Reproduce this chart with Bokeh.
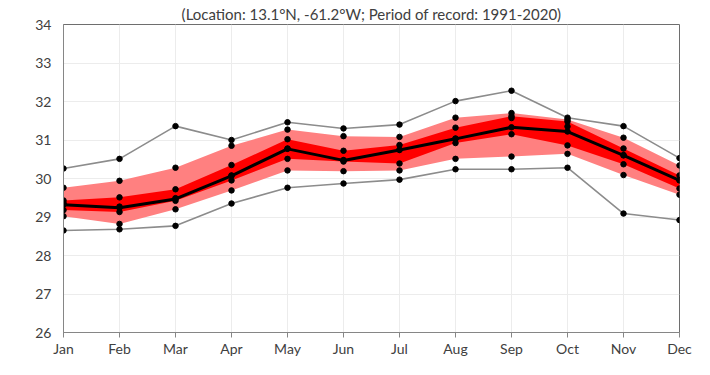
from bokeh.plotting import figure
from bokeh.embed import file_html
from bokeh.resources import INLINE
from bokeh.models import ColumnDataSource, FixedTicker, Range1d

months = ["Jan", "Feb", "Mar", "Apr", "May", "Jun", "Jul", "Aug", "Sep", "Oct", "Nov", "Dec"]
t_max = [30.26, 30.51, 31.36, 31.00, 31.46, 31.30, 31.40, 32.01, 32.28, 31.58, 31.36, 30.53]
p90 = [29.76, 29.94, 30.28, 30.85, 31.27, 31.10, 31.08, 31.58, 31.70, 31.53, 31.06, 30.34]
p75 = [29.43, 29.51, 29.72, 30.35, 31.02, 30.72, 30.87, 31.32, 31.62, 31.48, 30.78, 30.08]
median = [29.36, 29.27, 29.49, 30.08, 30.78, 30.48, 30.75, 31.04, 31.57, 31.35, 30.61, 29.96]
mean = [29.32, 29.24, 29.47, 30.07, 30.77, 30.47, 30.74, 31.03, 31.33, 31.22, 30.60, 29.95]
p25 = [29.18, 29.13, 29.42, 29.95, 30.51, 30.44, 30.39, 30.92, 31.15, 30.86, 30.37, 29.74]
p10 = [29.02, 28.82, 29.20, 29.69, 30.21, 30.19, 30.21, 30.51, 30.57, 30.64, 30.09, 29.58]
t_min = [28.65, 28.68, 28.77, 29.35, 29.76, 29.87, 29.97, 30.24, 30.24, 30.28, 29.09, 28.92]
y_ticks = [26, 27, 28, 29, 30, 31, 32, 33, 34]
subtitle = "(Location: 13.1°N, -61.2°W; Period of record: 1991-2020)"

x = [i + 1 for i in range(len(months))]
src = ColumnDataSource(dict(x=x, t_max=t_max, p90=p90, p75=p75, median=median,
                            mean=mean, p25=p25, p10=p10, t_min=t_min))

FONT = "Lato"
TXT = "#404040"

p = figure(width=694, height=359, output_backend="svg", toolbar_location=None,
           x_range=Range1d(1, 12), y_range=Range1d(26, 34),
           min_border_left=63, min_border_right=15, min_border_bottom=0, min_border_top=0)

p.title.text = subtitle
p.title.align = "center"
p.title.text_font = FONT
p.title.text_font_size = "15px"
p.title.text_font_style = "normal"
p.title.text_color = TXT
p.title.offset = 0
p.title.standoff = 4

p.varea(x="x", y1="p10", y2="p90", source=src, fill_color="#ff8080", fill_alpha=1)
p.varea(x="x", y1="p25", y2="p75", source=src, fill_color="#ff0000", fill_alpha=1)
p.line(x="x", y="t_max", source=src, line_color="#8c8c8c", line_width=1.6)
p.line(x="x", y="t_min", source=src, line_color="#8c8c8c", line_width=1.6)
p.line(x="x", y="mean", source=src, line_color="black", line_width=3)
for col in ["t_max", "p90", "p75", "median", "mean", "p25", "p10", "t_min"]:
    p.scatter(x="x", y=col, source=src, size=5.5, fill_color="black", line_color="black")

p.xaxis.ticker = FixedTicker(ticks=x)
p.xaxis.major_label_overrides = {xi: m for xi, m in zip(x, months)}
p.yaxis.ticker = FixedTicker(ticks=y_ticks)
for ax in (p.xaxis, p.yaxis):
    ax.axis_line_color = "#868686"
    ax.axis_line_width = 1
    ax.major_label_text_font = FONT
    ax.major_label_text_font_size = "14px"
    ax.major_label_text_color = TXT
    ax.minor_tick_line_color = None
p.xaxis.major_tick_line_color = "#868686"
p.xaxis.major_tick_out = 5
p.xaxis.major_tick_in = 0
p.xaxis.major_label_standoff = 2
p.yaxis.major_tick_out = 0
p.yaxis.major_tick_in = 0
p.yaxis.major_label_standoff = 12

p.xgrid.grid_line_color = "#ececec"
p.ygrid.grid_line_color = "#ececec"
p.xgrid.ticker = FixedTicker(ticks=x)
p.ygrid.ticker = FixedTicker(ticks=y_ticks)
p.outline_line_color = "#6e6e6e"
p.outline_line_width = 1

open("out.html", "w").write(file_html(p, INLINE))
